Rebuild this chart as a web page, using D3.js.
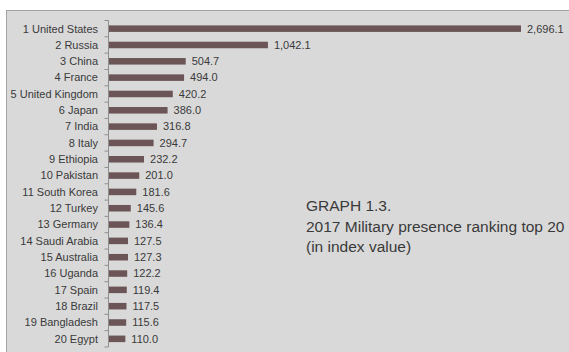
<!DOCTYPE html>
<html>
<head>
<meta charset="utf-8">
<script src="https://cdn.jsdelivr.net/npm/d3@7"></script>
<style>
  html, body { margin: 0; padding: 0; background: #ffffff; }
  svg { display: block; }
  text { font-family: "Liberation Sans", Arial, sans-serif; fill: #3a3a3a; }
</style>
</head>
<body>
<svg id="chart" width="569" height="352"></svg>
<script>
const countries = ["1 United States", "2 Russia", "3 China", "4 France", "5 United Kingdom",
  "6 Japan", "7 India", "8 Italy", "9 Ethiopia", "10 Pakistan", "11 South Korea",
  "12 Turkey", "13 Germany", "14 Saudi Arabia", "15 Australia", "16 Uganda",
  "17 Spain", "18 Brazil", "19 Bangladesh", "20 Egypt"];
const values = [2696.1, 1042.1, 504.7, 494.0, 420.2, 386.0, 316.8, 294.7, 232.2, 201.0,
  181.6, 145.6, 136.4, 127.5, 127.3, 122.2, 119.4, 117.5, 115.6, 110.0];
const titleLines = ["GRAPH 1.3.", "2017 Military presence ranking top 20", "(in index value)"];

const svg = d3.select("#chart");

// panel background with a frame on top and left
svg.append("rect").attr("x", 6.5).attr("y", 10.5).attr("width", 580).attr("height", 360)
  .attr("fill", "#d9d9d9").attr("stroke", "#a3a3a3").attr("stroke-width", 1);

const x = d3.scaleLinear().domain([0, 2696.1]).range([108.5, 521]);
const y = d3.scaleBand().domain(countries).range([20.5, 347]).paddingInner(0.6).paddingOuter(0.3);

// category axis with ticks at band boundaries
const axisX = 108.5;
const edges = d3.range(countries.length + 1).map(i => 20.5 + i * (347 - 20.5) / countries.length);
svg.append("line").attr("x1", axisX).attr("x2", axisX).attr("y1", edges[0]).attr("y2", edges[edges.length - 1])
  .attr("stroke", "#8f8f8f");
svg.selectAll(".tk").data(edges).join("line").attr("class", "tk")
  .attr("x1", axisX - 4).attr("x2", axisX).attr("y1", d => d).attr("y2", d => d)
  .attr("stroke", "#8f8f8f");

svg.selectAll(".bar").data(values).join("rect").attr("class", "bar")
  .attr("x", x(0) + 0.5)
  .attr("y", (d, i) => y(countries[i]))
  .attr("width", d => x(d) - x(0) - 0.5)
  .attr("height", y.bandwidth())
  .attr("fill", "#6b5556");

svg.selectAll(".cat").data(countries).join("text").attr("class", "cat")
  .attr("x", 98).attr("y", d => y(d) + y.bandwidth() / 2)
  .attr("dy", "0.35em").attr("text-anchor", "end").attr("font-size", 11).text(d => d);

const fmt = d3.format(",.1f");
svg.selectAll(".val").data(values).join("text").attr("class", "val")
  .attr("x", d => x(d) + 6).attr("y", (d, i) => y(countries[i]) + y.bandwidth() / 2)
  .attr("dy", "0.35em").attr("font-size", 11).text(d => fmt(d));

svg.selectAll(".title").data(titleLines).join("text").attr("class", "title")
  .attr("x", 306).attr("y", (d, i) => 211 + i * 20.5)
  .attr("font-size", 15.5).text(d => d);
</script>
</body>
</html>
